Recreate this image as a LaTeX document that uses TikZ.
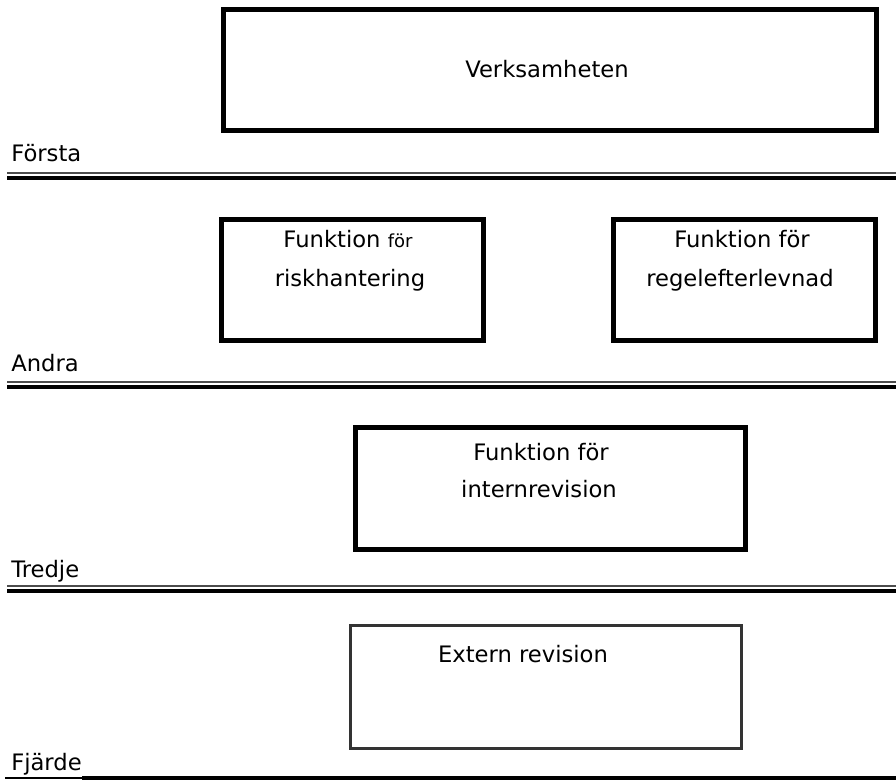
\documentclass[tikz,border=0pt]{standalone}
\usepackage{fontspec}
\setmainfont{DejaVu Sans}
\begin{document}
\begin{tikzpicture}[x=0.75pt, y=-0.75pt,
		box/.style={draw, line width=3.75pt, inner sep=0pt},
		txt/.style={inner sep=0pt, anchor=base, font=\fontsize{17}{20}\selectfont},
		lvl/.style={inner sep=0pt, anchor=base west, font=\fontsize{17}{20}\selectfont},
		rulethin/.style={line width=1.4pt, black!70},
		rulethick/.style={line width=3.2pt, black}]
		\useasboundingbox (0,0) rectangle (896,780);

		% Boxes
		\node[box, minimum width=489.75pt, minimum height=90.75pt] (verks) at (549.5,70.5) {};
		\node[box, minimum width=196.5pt, minimum height=90.75pt] (risk) at (352,280.5) {};
		\node[box, minimum width=196.5pt, minimum height=90.75pt] (regel) at (744.5,280.5) {};
		\node[box, minimum width=292.5pt, minimum height=90.75pt] (intern) at (550,488.5) {};
		\node[box, line width=2.25pt, draw=black!80, minimum width=293.25pt, minimum height=92.25pt] (extern) at (545.5,686.5) {};

		% Texts
		\node[txt] (verkstext) at (547,78) {Verksamheten};
		\node[txt] (risk1) at (348,248) {Funktion {\fontsize{13.5}{15}\selectfont för}};
		\node[txt] (risk2) at (350,287) {riskhantering};
		\node[txt] (regel1) at (742,248) {Funktion för};
		\node[txt] (regel2) at (740,287) {regelefterlevnad};
		\node[txt] (intern1) at (541,460) {Funktion för};
		\node[txt] (intern2) at (539,497) {internrevision};
		\node[txt] (externtext) at (523,662) {Extern revision};

		% Levels
		\node[lvl] (forsta) at (11,162) {Första};
		\node[lvl] (andra) at (11,372) {Andra};
		\node[lvl] (tredje) at (11,577) {Tredje};
		\node[lvl] (fjarde) at (11,770) {Fjärde};

		% Rules
		\draw[rulethin] (7,173) -- (896,173);
		\draw[rulethick] (7,178) -- (896,178);
		\draw[rulethin] (7,382) -- (896,382);
		\draw[rulethick] (7,387) -- (896,387);
		\draw[rulethin] (7,586) -- (896,586);
		\draw[rulethick] (7,591) -- (896,591);
		\draw[line width=1pt] (5,778) -- (82,778);
		\draw[rulethick] (82,778) -- (896,778);

	\end{tikzpicture}
\end{document}
